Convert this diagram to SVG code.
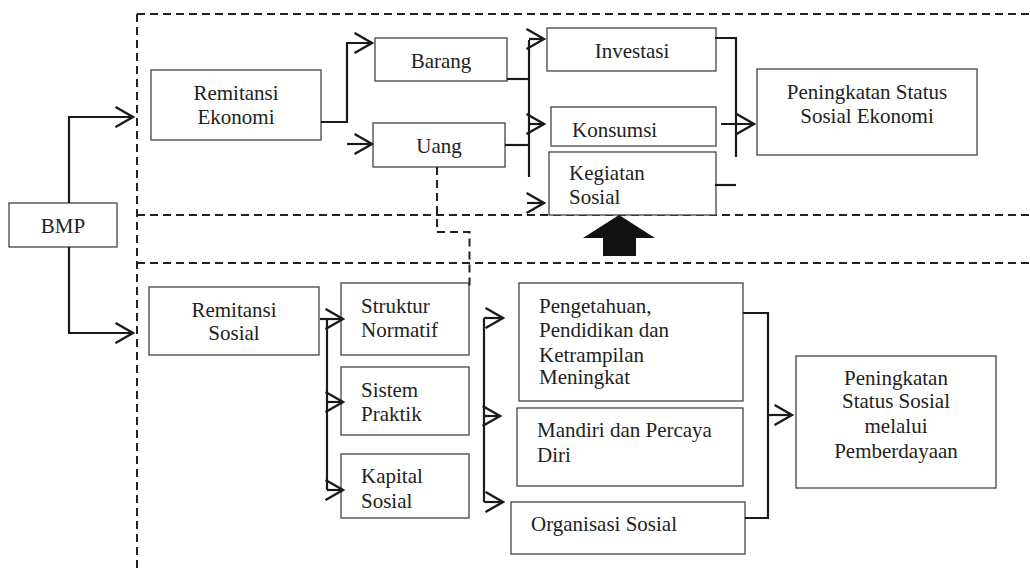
<svg xmlns="http://www.w3.org/2000/svg" width="1030" height="569" viewBox="0 0 1030 569">
<style>
.box{fill:#fff;stroke:#444;stroke-width:1.3}
.t{font-family:"Liberation Serif","Times New Roman",serif;font-size:21px;fill:#222}
.c{text-anchor:middle}
.ln{fill:none;stroke:#1a1a1a;stroke-width:2.2}
.dash{fill:none;stroke:#222;stroke-width:2;stroke-dasharray:8 5}
</style>
<defs>
<marker id="arr" viewBox="0 0 20 22" refX="18.5" refY="11" markerWidth="20" markerHeight="22" markerUnits="userSpaceOnUse" orient="auto">
<path d="M1,1 L18.5,11 L1,21" fill="none" stroke="#1a1a1a" stroke-width="2.4"/>
</marker>
</defs>
<rect width="1030" height="569" fill="#fff"/>
<g id="frames">
<path class="dash" d="M137,14 H1030"/>
<path class="dash" d="M137,14 V569"/>
<path class="dash" d="M137,215 H1030"/>
<path class="dash" d="M137,263 H1030"/>
</g>
<g id="n-bmp"><rect class="box" x="9" y="203" width="108" height="44"/><text class="t c" x="63" y="233">BMP</text></g>
<g id="n-remek"><rect class="box" x="151" y="70" width="170" height="70"/><text class="t c" x="236" y="100">Remitansi</text><text class="t c" x="236" y="124">Ekonomi</text></g>
<g id="n-barang"><rect class="box" x="375" y="38" width="132" height="43"/><text class="t c" x="441" y="68">Barang</text></g>
<g id="n-uang"><rect class="box" x="373" y="123" width="132" height="44"/><text class="t c" x="439" y="153">Uang</text></g>
<g id="n-investasi"><rect class="box" x="547" y="28" width="169" height="43"/><text class="t c" x="632" y="58">Investasi</text></g>
<g id="n-konsumsi"><rect class="box" x="551" y="107" width="165" height="39"/><text class="t" x="572" y="137">Konsumsi</text></g>
<g id="n-kegiatan"><rect class="box" x="549" y="152" width="167" height="63"/><text class="t" x="569" y="180">Kegiatan</text><text class="t" x="569" y="204">Sosial</text></g>
<g id="n-psse"><rect class="box" x="757" y="69" width="220" height="86"/><text class="t c" x="867" y="99">Peningkatan Status</text><text class="t c" x="867" y="123">Sosial Ekonomi</text></g>
<g id="n-remsos"><rect class="box" x="149" y="287" width="170" height="68"/><text class="t c" x="234" y="317">Remitansi</text><text class="t c" x="234" y="340">Sosial</text></g>
<g id="n-struktur"><rect class="box" x="341" y="283" width="128" height="72"/><text class="t" x="361" y="313">Struktur</text><text class="t" x="361" y="337">Normatif</text></g>
<g id="n-sistem"><rect class="box" x="341" y="367" width="128" height="68"/><text class="t" x="361" y="397">Sistem</text><text class="t" x="361" y="421">Praktik</text></g>
<g id="n-kapital"><rect class="box" x="341" y="454" width="128" height="64"/><text class="t" x="361" y="483">Kapital</text><text class="t" x="361" y="508">Sosial</text></g>
<g id="n-pengetahuan"><rect class="box" x="519" y="283" width="224" height="118"/><text class="t" x="539" y="313">Pengetahuan,</text><text class="t" x="539" y="337">Pendidikan dan</text><text class="t" x="539" y="362">Ketrampilan</text><text class="t" x="539" y="384">Meningkat</text></g>
<g id="n-mandiri"><rect class="box" x="517" y="408" width="226" height="78"/><text class="t" x="537" y="437">Mandiri dan Percaya</text><text class="t" x="537" y="462">Diri</text></g>
<g id="n-organisasi"><rect class="box" x="511" y="502" width="234" height="52"/><text class="t" x="531" y="531">Organisasi Sosial</text></g>
<g id="n-pssp"><rect class="box" x="796" y="356" width="200" height="132"/><text class="t c" x="896" y="385">Peningkatan</text><text class="t c" x="896" y="408">Status Sosial</text><text class="t c" x="896" y="433">melalui</text><text class="t c" x="896" y="458">Pemberdayaan</text></g>
<g id="connectors">
<path class="ln" d="M69,203 V117 H133" marker-end="url(#arr)"/>
<path class="ln" d="M69,247 V333 H133" marker-end="url(#arr)"/>
<path class="ln" d="M321,122 H347 V43 H372" marker-end="url(#arr)"/>
<path class="ln" d="M347,144 H372" marker-end="url(#arr)"/>
<path class="ln" d="M507,79 H529"/>
<path class="ln" d="M505,145 H529"/>
<path class="ln" d="M529,40 V177"/>
<path class="ln" d="M529,39 H544" marker-end="url(#arr)"/>
<path class="ln" d="M529,124 H544" marker-end="url(#arr)"/>
<path class="ln" d="M527,203 H544" marker-end="url(#arr)"/>
<path class="ln" d="M715,38 H736 V157"/>
<path class="ln" d="M721,124 H754" marker-end="url(#arr)"/>
<path class="ln" d="M715,185 H736"/>
<path class="dash" d="M437,167 V232 H469.5 V286"/>
<polygon points="619,215 655,238 636,238 636,256 603,256 603,238 583,238" fill="#111"/>
<path class="ln" d="M320,319 H343" marker-end="url(#arr)"/>
<path class="ln" d="M327,319 V490"/>
<path class="ln" d="M327,402 H343" marker-end="url(#arr)"/>
<path class="ln" d="M327,490 H343" marker-end="url(#arr)"/>
<path class="ln" d="M484,318 V502"/>
<path class="ln" d="M484,318 H503" marker-end="url(#arr)"/>
<path class="ln" d="M484,416 H500" marker-end="url(#arr)"/>
<path class="ln" d="M484,502 H503" marker-end="url(#arr)"/>
<path class="ln" d="M743,313 H768 V518 H745"/>
<path class="ln" d="M768,415 H792" marker-end="url(#arr)"/>
</g>
</svg>
